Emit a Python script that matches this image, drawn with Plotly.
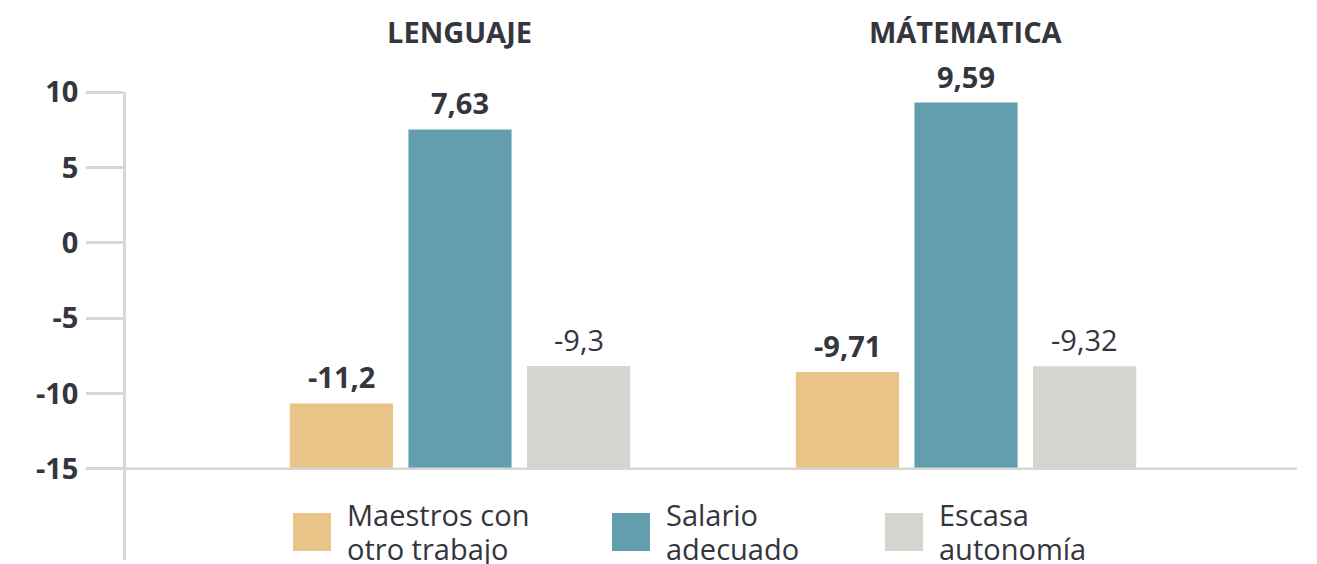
import plotly.graph_objects as go

# ---- data ----
categories = ["LENGUAJE", "MÁTEMATICA"]
series_names = ["Maestros con otro trabajo", "Salario adecuado", "Escasa autonomía"]
legend_lines = [["Maestros con", "otro trabajo"], ["Salario", "adecuado"], ["Escasa", "autonomía"]]
maestros = [-10.66, -8.58]
salario = [7.52, 9.30]
escasa = [-8.18, -8.20]
maestros_labels = ["-11,2", "-9,71"]
salario_labels = ["7,63", "9,59"]
escasa_labels = ["-9,3", "-9,32"]
y_ticks = [10, 5, 0, -5, -10, -15]
BASE = -15

colors = ["#E8C489", "#639EAE", "#D5D5D0"]
label_bold = [True, True, False]
TEXT = "#35353D"
AXIS = "#D8D8D2"
FONT = "Open Sans"
FS = 29

series_vals = [maestros, salario, escasa]
series_labels = [maestros_labels, salario_labels, escasa_labels]

# page offset (html body margin)
OFF = 8
W, H = 1317, 564
ML = 126 - OFF
MT = 92 - OFF
MR = W - (1297 - OFF)
MB = H - (560 - OFF)
BARGAP, BARGROUPGAP = 0.297, 0.13

fig = go.Figure()
for name, vals, col in zip(series_names, series_vals, colors):
    fig.add_trace(go.Bar(
        x=categories, y=[v - BASE for v in vals], base=BASE, name=name,
        marker=dict(color=col, line=dict(width=0)), showlegend=False,
        hoverinfo="skip",
    ))

# value labels
slot = (1 - BARGAP) / len(series_vals)
annotations = []
for si, (vals, labs) in enumerate(zip(series_vals, series_labels)):
    off = (si - (len(series_vals) - 1) / 2) * slot
    for ci, (v, lab) in enumerate(zip(vals, labs)):
        txt = f"<b>{lab}</b>" if label_bold[si] else lab
        annotations.append(dict(
            x=ci + off, y=v, xref="x", yref="y", text=txt, showarrow=False,
            yanchor="bottom", yshift=5,
            font=dict(family=FONT, size=FS, color=TEXT),
        ))

# category titles
for ci, c in enumerate(categories):
    annotations.append(dict(
        x=ci, y=1, xref="x", yref="paper", yanchor="middle", yshift=61,
        text=f"<b>{c}</b>", showarrow=False,
        font=dict(family=FONT, size=FS, color=TEXT),
    ))

# manual legend with large swatches (page pixel positions)
plot_w = W - ML - MR
plot_h = H - MT - MB
def px(x):
    return (x - OFF - ML) / plot_w
def py(y):
    return (H - MB - (y - OFF)) / plot_h

sw_left = [293, 612, 885]
line_centers = [514, 548]
shapes = []
for x0, col, lines in zip(sw_left, colors, legend_lines):
    shapes.append(dict(type="rect", xref="paper", yref="paper",
                       x0=px(x0), x1=px(x0 + 38), y0=py(551), y1=py(513),
                       fillcolor=col, line=dict(width=0), layer="above"))
    for ln, yc in zip(lines, line_centers):
        annotations.append(dict(
            x=px(x0 + 52), y=py(yc), xref="paper", yref="paper",
            xanchor="left", yanchor="middle", align="left", text=ln, showarrow=False,
            font=dict(family=FONT, size=FS, color=TEXT),
        ))

# baseline line at -15
shapes.append(dict(type="line", xref="paper", yref="y", x0=0, x1=1, y0=BASE, y1=BASE,
                   line=dict(color=AXIS, width=2.5), layer="above"))

fig.update_layout(
    width=W, height=H,
    margin=dict(l=ML, r=MR, t=MT, b=MB),
    paper_bgcolor="white", plot_bgcolor="white",
    barmode="group", bargap=BARGAP, bargroupgap=BARGROUPGAP,
    showlegend=False,
    annotations=annotations, shapes=shapes,
    xaxis=dict(type="category", range=[-0.66, 1.654], showticklabels=False,
               showgrid=False, zeroline=False, showline=False, ticks=""),
    yaxis=dict(range=[-21.05, 10], tickvals=y_ticks, ticktext=[str(t) for t in y_ticks],
               showgrid=False, zeroline=False, showline=True, linecolor=AXIS, linewidth=2.5,
               ticks="outside", ticklen=37, tickwidth=2.5, tickcolor=AXIS,
               ticklabelstandoff=2,
               tickfont=dict(family=FONT, size=FS, color=TEXT, weight="bold")),
)

fig.write_html("out.html")
